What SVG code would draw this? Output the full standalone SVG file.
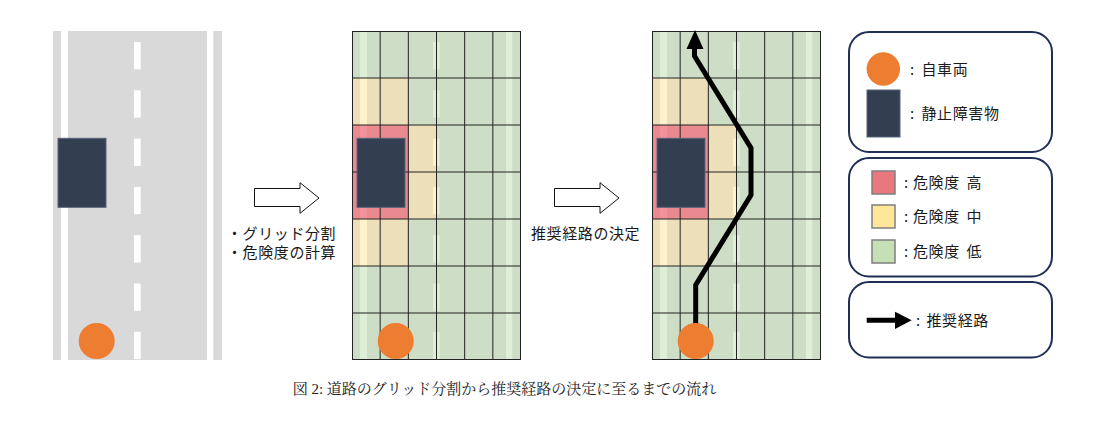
<svg xmlns="http://www.w3.org/2000/svg" xmlns:xlink="http://www.w3.org/1999/xlink" width="1105" height="430" viewBox="0 0 1105 430">
<style>
  .road{fill:#D9D9D9}
  .wline{fill:#FFFFFF}
  .obst{fill:#333F50;stroke:#56657A;stroke-width:1}
  .car{fill:#ED7D31}
  .g{fill:#C5E0B4;fill-opacity:0.55}
  .y{fill:#FFE699;fill-opacity:0.5}
  .r{fill:#EE6F77;fill-opacity:0.75}
  .gl{stroke:#222;stroke-width:1;fill:none}
  .t{font-family:"Noto Sans CJK JP","Noto Sans CJK SC",sans-serif;font-size:15px;fill:#1a1a1a;letter-spacing:0.6px}
  .cap{font-family:"Liberation Serif","Noto Serif CJK JP","Noto Sans CJK JP",serif;font-size:15px;fill:#222}
  .box{fill:#FFFFFF;stroke:#1F2F55;stroke-width:2}
  .sw{stroke:#7F7F7F;stroke-width:1.5}
  .blk{fill:#FFFFFF;stroke:#111;stroke-width:1}
  .route{fill:none;stroke:#000;stroke-width:5;stroke-linejoin:miter}
</style>
<defs>
  <g id="road">
    <rect class="road" x="0" y="0" width="169" height="329"/>
    <rect class="wline" x="8" y="0" width="7" height="329"/>
    <rect class="wline" x="154" y="0" width="6.3" height="329"/>
    <rect class="wline" x="81" y="11" width="6.7" height="27.3"/>
    <rect class="wline" x="81" y="59.3" width="6.7" height="27.3"/>
    <rect class="wline" x="81" y="107.6" width="6.7" height="27.3"/>
    <rect class="wline" x="81" y="155.9" width="6.7" height="27.3"/>
    <rect class="wline" x="81" y="204.2" width="6.7" height="27.3"/>
    <rect class="wline" x="81" y="252.5" width="6.7" height="27.3"/>
    <rect class="wline" x="81" y="300.8" width="6.7" height="27.3"/>
  </g>
  <g id="grid">
    <rect class="g" x="0" y="0" width="169" height="47"/>
    <rect class="g" x="56.33" y="47" width="112.67" height="47"/>
    <rect class="g" x="84.5" y="94" width="84.5" height="94"/>
    <rect class="g" x="56.33" y="188" width="112.67" height="47"/>
    <rect class="g" x="0" y="235" width="169" height="94"/>
    <rect class="y" x="0" y="47" width="56.33" height="47"/>
    <rect class="y" x="56.33" y="94" width="28.17" height="94"/>
    <rect class="y" x="0" y="188" width="56.33" height="47"/>
    <rect class="r" x="0" y="94" width="56.33" height="94"/>
    <path class="gl" d="M0.5 0V329M28.17 0V329M56.33 0V329M84.5 0V329M112.67 0V329M140.83 0V329M168.5 0V329M0 0.5H169M0 47H169M0 94H169M0 141H169M0 188H169M0 235H169M0 282H169M0 328.5H169"/>
  </g>
  <rect id="obstacle" class="obst" x="5" y="107.3" width="48" height="69"/>
  <circle id="car" class="car" cx="43.7" cy="310" r="18"/>
</defs>

<g id="panel-road" transform="translate(53,31)">
  <use xlink:href="#road"/>
  <use xlink:href="#obstacle"/>
  <use xlink:href="#car"/>
</g>

<g id="panel-grid" transform="translate(352,31)">
  <use xlink:href="#road"/>
  <use xlink:href="#grid"/>
  <use xlink:href="#obstacle"/>
  <use xlink:href="#car"/>
</g>

<g id="panel-route" transform="translate(652,31)">
  <use xlink:href="#road"/>
  <use xlink:href="#grid"/>
  <use xlink:href="#obstacle"/>
  <path class="route" d="M43.7 300V254L99 164V117L42.5 25V16"/>
  <polygon points="43,-1 34.5,18 51.5,18" fill="#000"/>
  <use xlink:href="#car"/>
</g>

<g id="connectors">
  <g id="step-1">
    <polygon class="blk" points="254.5,188.5 300,188.5 300,182.7 319,198 300,213.3 300,206.5 254.5,206.5"/>
    <text class="t" x="227" y="239">・グリッド分割</text>
    <text class="t" x="227" y="258">・危険度の計算</text>
  </g>
  <g id="step-2">
    <polygon class="blk" points="554.5,188.5 600,188.5 600,182.7 619,198 600,213.3 600,206.5 554.5,206.5"/>
    <text class="t" x="531" y="239">推奨経路の決定</text>
  </g>
</g>

<g id="legend-objects">
  <rect class="box" x="849" y="32" width="203" height="120" rx="20"/>
  <circle class="car" cx="883.3" cy="69" r="16.7"/>
  <text class="t" x="910" y="74.5">:<tspan x="921.5">自車両</tspan></text>
  <rect class="obst" x="867" y="90" width="33" height="47"/>
  <text class="t" x="910" y="119">:<tspan x="921.5">静止障害物</tspan></text>
</g>

<g id="legend-risk">
  <rect class="box" x="849" y="158" width="203" height="118.5" rx="20"/>
  <rect class="sw" fill="#E8787E" x="872" y="171" width="23" height="23"/>
  <text class="t" x="904" y="188.4">:<tspan x="913">危険度</tspan><tspan x="966.5">高</tspan></text>
  <rect class="sw" fill="#FFE699" x="872" y="205" width="23" height="23"/>
  <text class="t" x="904" y="222.4">:<tspan x="913">危険度</tspan><tspan x="966.5">中</tspan></text>
  <rect class="sw" fill="#C5E0B4" x="872" y="240" width="23" height="23"/>
  <text class="t" x="904" y="257.4">:<tspan x="913">危険度</tspan><tspan x="966.5">低</tspan></text>
</g>

<g id="legend-route">
  <rect class="box" x="849" y="282" width="203" height="75.5" rx="20"/>
  <polygon points="866.7,317.8 895,317.8 895,311.7 911.7,320.3 895,329 895,322.8 866.7,322.8" fill="#000"/>
  <text class="t" x="916" y="326">:<tspan x="926.5">推奨経路</tspan></text>
</g>

<text class="cap" x="292.7" y="394">図 2: 道路のグリッド分割から推奨経路の決定に至るまでの流れ</text>
</svg>
